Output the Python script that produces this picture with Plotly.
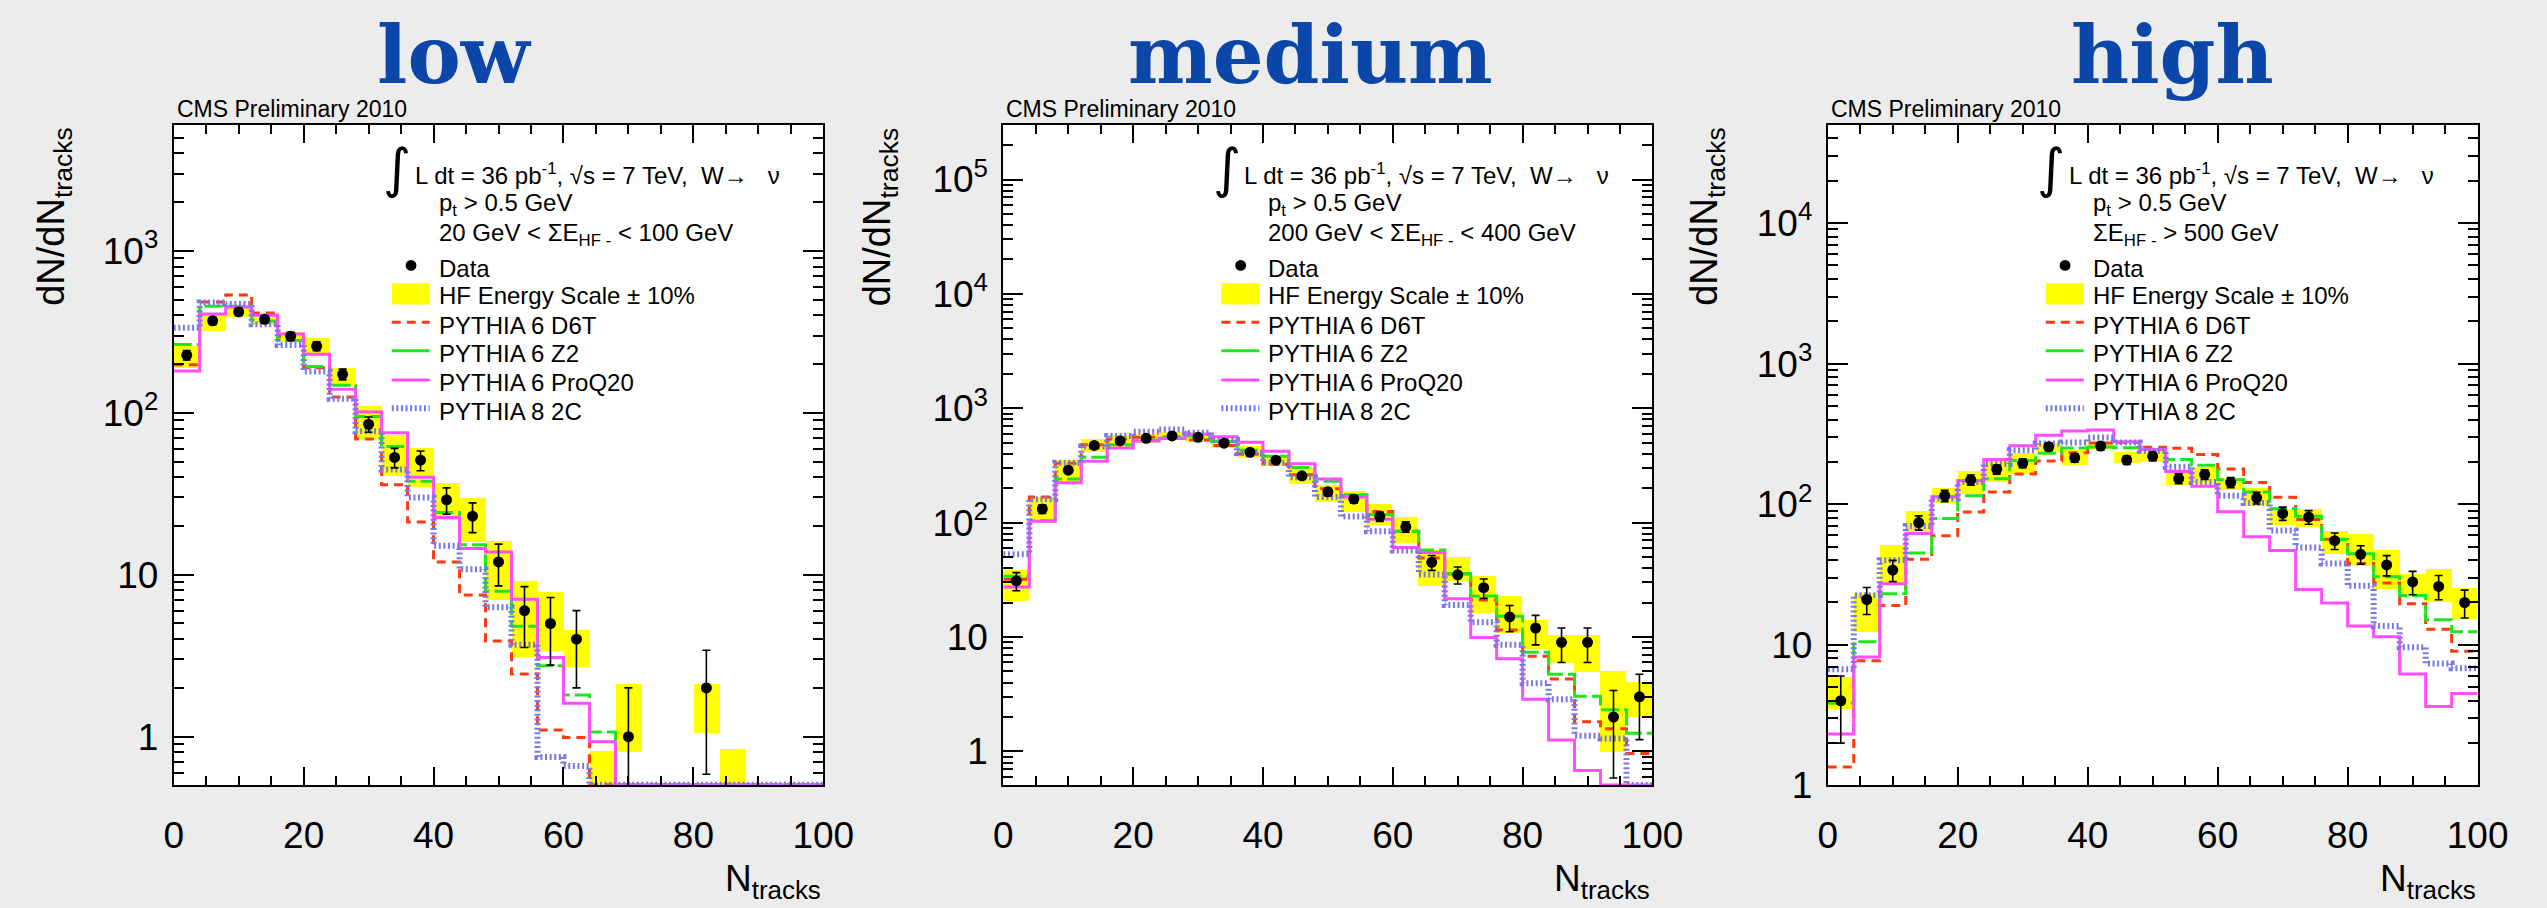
import numpy as np
import plotly.graph_objects as go

# ------------------------------------------------------------------
# Charged-track multiplicity in W events, three HF- energy classes
# ------------------------------------------------------------------
bin_edges = np.arange(0, 104, 4)          # 0, 4, ..., 100
bin_centers = bin_edges[:-1] + 2

panel_titles = ["low", "medium", "high"]
hf_selection = [
    "20 GeV &lt; ΣE<sub>HF -</sub> &lt; 100 GeV",
    "200 GeV &lt; ΣE<sub>HF -</sub> &lt; 400 GeV",
    "ΣE<sub>HF -</sub> &gt; 500 GeV",
]
data_name = "Data"
band_name = "HF Energy Scale ± 10%"
mc_names = ["PYTHIA 6 D6T", "PYTHIA 6 Z2", "PYTHIA 6 ProQ20", "PYTHIA 8 2C"]

x_tick_vals = [0, 20, 40, 60, 80, 100]
x_tick_text = ["0", "20", "40", "60", "80", "100"]
y_tick_vals = [1, 10, 100, 1000, 10000, 100000]
y_tick_text = ["1", "10", "10<sup>2</sup>", "10<sup>3</sup>", "10<sup>4</sup>", "10<sup>5</sup>"]

# ---- low ----
low_data = [227, 370, 420, 378, 297, 258, 173, 85, 53, 51, 29, 23, 12, 6, 5, 4, 0, 1, 0, 0, 2, 0, 0, 0, 0]
low_band_lo = [190, 321, 390, 349, 273, 229, 146, 68.5, 41, 35, 21.9, 16.1, 7.0, 3.1, 3.4, 2.7, 0, 0.81, 0, 0, 1.06, 0, 0, 0, 0]
low_band_hi = [258, 401, 451, 414, 315, 292, 190, 110, 73, 61, 37.2, 29.7, 16.3, 9.2, 7.9, 4.6, 0.82, 2.12, 0, 0, 2.12, 0.84, 0, 0, 0]
low_d6t = [198, 483, 535, 414, 295, 190, 125, 69, 36, 21.2, 12, 7.5, 3.9, 2.44, 1.1, 0.99, 0, 0, 0, 0, 0, 0, 0, 0, 0]
low_z2 = [264, 455, 455, 369, 280, 193, 148, 95, 62, 37.8, 24.2, 15.3, 7.9, 4.8, 2.74, 1.81, 1.07, 0, 0, 0, 0, 0, 0, 0, 0]
low_proq20 = [181, 408, 451, 401, 307, 230, 140, 101, 75.4, 40, 22.6, 14.5, 13.8, 7.05, 3.08, 1.61, 0.93, 0, 0, 0, 0, 0, 0, 0, 0]
low_p8_2c = [335, 480, 470, 352, 262, 180, 122, 77, 44.6, 30, 15.1, 10.8, 6.3, 3.7, 0.75, 0.66, 0, 0, 0, 0, 0, 0, 0, 0, 0]

# ---- medium ----
med_data = [31, 132, 288, 474, 519, 547, 573, 558, 495, 412, 352, 257, 186, 161, 113, 92, 45, 35, 27, 15, 12, 9, 9, 2, 3]
med_band_lo = [20.7, 103, 218, 421, 464, 495, 529, 506, 455, 369, 317, 218, 152, 125, 96, 67, 28.3, 31, 16.2, 11, 7.9, 6.0, 5.0, 1.0, 2.0]
med_band_hi = [38.5, 168, 357, 540, 591, 604, 624, 611, 547, 470, 393, 303, 214, 191, 147, 113, 57.7, 50.7, 34.2, 23.2, 14.2, 10.4, 10.4, 5.1, 4.1]
med_d6t = [32, 168, 330, 480, 540, 557, 547, 529, 474, 399, 324, 262, 198, 175, 125, 84, 49, 35.6, 21.1, 11.5, 6.8, 4.3, 1.82, 1.58, 0.96]
med_z2 = [34, 104, 241, 374, 480, 529, 565, 573, 512, 429, 381, 303, 230, 173, 118, 84, 57.7, 36, 22.8, 15.2, 7.35, 4.74, 3.04, 2.31, 1.44]
med_proq20 = [27.4, 103, 223, 345, 449, 519, 547, 596, 565, 506, 421, 328, 241, 168, 107, 60.8, 55, 21.6, 9.9, 6.46, 2.86, 1.26, 0.68, 0, 0]
med_p8_2c = [53, 160, 334, 464, 573, 624, 653, 611, 529, 407, 334, 249, 168, 113, 84, 57, 35.3, 19.1, 13.5, 8.55, 3.95, 2.86, 1.37, 1.30, 0]

# ---- high ----
high_data = [4, 21, 34, 74, 115, 149, 177, 196, 256, 214, 259, 206, 219, 152, 163, 143, 111, 86, 81, 55, 44, 37, 28, 26, 20]
high_band_lo = [3.5, 12.4, 27.4, 63, 103, 119, 144, 165, 236, 192, 250, 198, 200, 137, 139, 127, 97, 71.6, 69, 44.4, 36.8, 24.9, 22.2, 20.3, 15.3]
high_band_hi = [5.9, 23.5, 51.4, 90, 131, 174, 206, 231, 275, 243, 278, 237, 243, 180, 186, 155, 132, 93, 93, 65, 61.6, 47.2, 31.8, 34.5, 25.4]
high_d6t = [1.35, 7.7, 19, 40.6, 59.6, 88, 122, 164, 203, 232, 272, 275, 254, 250, 226, 178, 143, 112, 78, 56.4, 37.8, 27.5, 19.6, 12.9, 9.0]
high_z2 = [3.84, 10.5, 23.1, 45, 79, 115, 152, 205, 230, 251, 255, 252, 245, 208, 189, 149, 122, 93, 82, 56, 44.4, 30.5, 22.4, 15.1, 12.4]
high_proq20 = [2.32, 8.2, 27.2, 62, 113, 147, 208, 261, 310, 332, 337, 278, 245, 171, 134, 88.5, 58.7, 46.8, 24.7, 19.8, 13.6, 11.4, 6.2, 3.64, 4.5]
high_p8_2c = [6.7, 22.5, 40, 70, 110, 144, 193, 242, 270, 275, 298, 275, 240, 185, 144, 115, 102, 65, 49.3, 37.8, 26.3, 13.6, 9.6, 7.35, 6.8]

panels = [
    dict(data=low_data, lo=low_band_lo, hi=low_band_hi,
         mc=[low_d6t, low_z2, low_proq20, low_p8_2c], ylog=(-0.301, 3.779), nmax=3),
    dict(data=med_data, lo=med_band_lo, hi=med_band_hi,
         mc=[med_d6t, med_z2, med_proq20, med_p8_2c], ylog=(-0.297, 5.479), nmax=5),
    dict(data=high_data, lo=high_band_lo, hi=high_band_hi,
         mc=[high_d6t, high_z2, high_proq20, high_p8_2c], ylog=(0.0, 4.699), nmax=4),
]

# ---- page geometry (pixels) ----
W, H = 2547, 908
frame_left = [166.4, 1009.6, 1847.5]
frame_right = [826.6, 1669.3, 2508.0]
frame_top, frame_bottom = 127.7, 804.0
title_x = [452, 1322, 2198]
ytitle_x = [44, 884, 1724]


def px(x):
    return x / W


def py(y):
    return 1 - y / H


mc_styles = [
    dict(color="#ff3a10", width=3, dash="9px,6px"),
    dict(color="#1ee61e", width=3, dash="18px,5px"),
    dict(color="#ff4dff", width=3, dash="solid"),
    dict(color="#7878e8", width=6, dash="2px,2.6px"),
]
legend_line_dash = ["9px,6px", "solid", "solid", "2px,2.6px"]

FONT = "Liberation Sans"
fig = go.Figure()
layout = dict(
    width=W, height=H, autosize=False,
    margin=dict(l=0, r=0, t=0, b=0),
    paper_bgcolor="#ececec", plot_bgcolor="#ffffff",
    showlegend=False, barmode="overlay", bargap=0,
)
annotations = []
shapes = []


def note(text, x, y, xanchor="left", yanchor="middle", size=24, family=FONT, color="black", **kw):
    annotations.append(dict(text=text, x=px(x), y=py(y), xref="paper", yref="paper",
                            xanchor=xanchor, yanchor=yanchor, showarrow=False,
                            font=dict(family=family, size=size, color=color), **kw))


for i, p in enumerate(panels):
    xa = "x" if i == 0 else f"x{i + 1}"
    ya = "y" if i == 0 else f"y{i + 1}"
    ymin, ymax = p["ylog"]
    floor = 10 ** ymin

    # HF energy-scale band
    lo = np.array(p["lo"], float)
    hi = np.array(p["hi"], float)
    has = hi > 0
    lo_c = np.where(lo > 0, lo, floor * 0.5)
    fig.add_trace(go.Bar(
        x=bin_centers[has], y=(hi - lo_c)[has], base=lo_c[has], width=4,
        marker=dict(color="#ffff00", line=dict(width=0)),
        xaxis=xa, yaxis=ya, hoverinfo="skip"))

    # generator predictions as step histograms
    for vals, st in zip(p["mc"], mc_styles):
        v = np.maximum(np.array(vals, float), 10 ** (ymin + 0.004))
        fig.add_trace(go.Scatter(
            x=bin_edges, y=np.append(v, v[-1]), mode="lines",
            line=dict(shape="hv", **st), xaxis=xa, yaxis=ya, hoverinfo="skip"))

    # data with statistical errors
    d = np.array(p["data"], float)
    m = d > 0
    err = np.sqrt(d)
    err_lo = np.minimum(err, d - floor * 0.6)
    fig.add_trace(go.Scatter(
        x=bin_centers[m], y=d[m], mode="markers",
        marker=dict(color="black", size=11),
        error_y=dict(type="data", array=err[m], arrayminus=err_lo[m],
                     color="black", thickness=1.6, width=4),
        xaxis=xa, yaxis=ya))

    # axes
    xkey = "xaxis" if i == 0 else f"xaxis{i + 1}"
    ykey = "yaxis" if i == 0 else f"yaxis{i + 1}"
    layout[xkey] = dict(
        domain=[px(frame_left[i]), px(frame_right[i])], range=[0, 100], anchor=ya,
        tickmode="array", tickvals=x_tick_vals, ticktext=x_tick_text,
        ticks="inside", ticklen=18, tickwidth=1.6, tickcolor="black",
        showline=True, linecolor="black", linewidth=2, mirror="allticks",
        showgrid=False, zeroline=False, ticklabelstandoff=16,
        tickfont=dict(family=FONT, size=37, color="black"),
        minor=dict(tickmode="array", tickvals=[v for v in range(5, 100, 5) if v % 20],
                   ticks="inside", ticklen=9, tickwidth=1.6, tickcolor="black", showgrid=False),
    )
    dec = range(int(np.floor(ymin)), int(np.ceil(ymax)) + 1)
    minor_vals = [k * 10 ** e for e in dec for k in range(2, 10)
                  if ymin <= np.log10(k * 10 ** e) <= ymax]
    nlab = p["nmax"] + 1
    layout[ykey] = dict(
        domain=[py(frame_bottom), py(frame_top)], type="log", range=[ymin, ymax], anchor=xa,
        tickmode="array", tickvals=y_tick_vals[:nlab], ticktext=y_tick_text[:nlab],
        ticks="inside", ticklen=20, tickwidth=1.6, tickcolor="black",
        showline=True, linecolor="black", linewidth=2, mirror="allticks",
        showgrid=False, zeroline=False, ticklabelstandoff=6,
        tickfont=dict(family=FONT, size=37, color="black"),
        minor=dict(tickmode="array", tickvals=minor_vals, ticks="inside", ticklen=10,
                   tickwidth=1.6, tickcolor="black", showgrid=False),
    )

    L = frame_left[i]
    # panel heading and axis titles
    note(f"<b>{panel_titles[i]}</b>", title_x[i], 56, xanchor="center",
         size=80, family="DejaVu Serif", color="#0b46a8")
    note("CMS Preliminary 2010", L + 1, 111.5, size=23)
    note("dN/dN<sub>tracks</sub>", ytitle_x[i], 128, xanchor="center", yanchor="top",
         size=38, textangle=-90)
    note("N<sub>tracks</sub>", frame_right[i], 902, xanchor="right", size=37)

    # header lines
    note("∫", L + 227, 172, xanchor="center", size=54, family="DejaVu Sans")
    note("L dt = 36 pb<sup>-1</sup>, √s = 7 TeV,  W→   ν", L + 242.8, 178)
    text_x = L + 267.2
    note("p<sub>t</sub> &gt; 0.5 GeV", text_x, 209)
    note(hf_selection[i], text_x, 240)

    # legend
    entry_y = [271.7, 300, 330, 359, 389, 418]
    for txt, yy in zip([data_name, band_name] + mc_names, entry_y):
        note(txt, text_x, yy + 3)
    sx0, sx1 = px(L + 221.6), px(L + 260.2)
    cx, r = L + 241.2, 5.5
    shapes.append(dict(type="circle", xref="paper", yref="paper",
                       x0=px(cx - r), x1=px(cx + r), y0=py(entry_y[0] + r), y1=py(entry_y[0] - r),
                       fillcolor="black", line=dict(width=0)))
    shapes.append(dict(type="rect", xref="paper", yref="paper",
                       x0=sx0, x1=sx1, y0=py(311.7), y1=py(290),
                       fillcolor="#ffff00", line=dict(width=0)))
    for st, dsh, yy in zip(mc_styles, legend_line_dash, entry_y[2:]):
        shapes.append(dict(type="line", xref="paper", yref="paper",
                           x0=sx0, x1=sx1, y0=py(yy), y1=py(yy),
                           line=dict(color=st["color"], width=st["width"], dash=dsh)))

layout["annotations"] = annotations
layout["shapes"] = shapes
fig.update_layout(**layout)
fig.write_html("out.html")
